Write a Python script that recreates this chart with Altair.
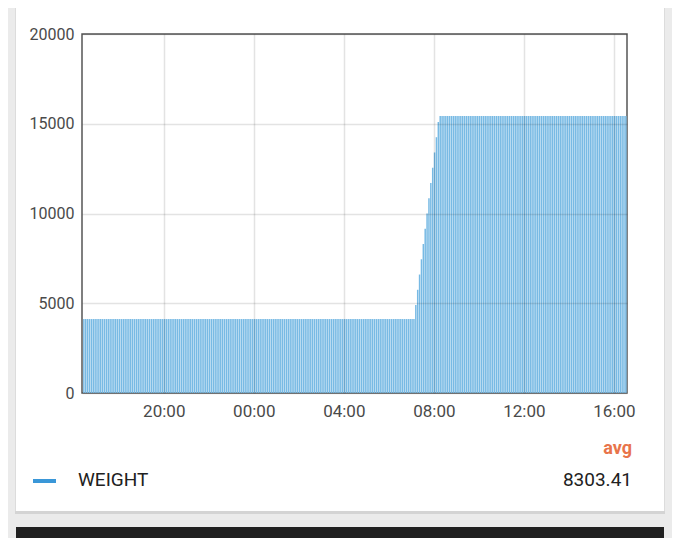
import altair as alt
import pandas as pd

# ---- data ----
first_bar = "2023-01-01 16:25"
bar_minutes = 5
low_level = 4120
low_count = 177
ramp_values = [4900, 5750, 6600, 7450, 8300, 9150, 10000, 10850, 11700, 12550, 13400, 14250, 15100]
high_level = 15430
high_count = 100
domain_start = alt.DateTime(year=2023, month=1, date=1, hours=16, minutes=22)
domain_end = alt.DateTime(year=2023, month=1, date=2, hours=16, minutes=35)
tick_times = [(1, 20), (2, 0), (2, 4), (2, 8), (2, 12), (2, 16)]
y_ticks = [0, 5000, 10000, 15000, 20000]
series_name = "WEIGHT"
avg_label = "avg"
avg_value = "8303.41"

values = [low_level] * low_count + ramp_values + [high_level] * high_count
starts = pd.date_range(first_bar, periods=len(values), freq=f"{bar_minutes}min")
df = pd.DataFrame({
    "start": starts.strftime("%Y-%m-%dT%H:%M:%S"),
    "end": (starts + pd.Timedelta(minutes=bar_minutes - 1)).strftime("%Y-%m-%dT%H:%M:%S"),
    "value": values,
})
x_ticks = [alt.DateTime(year=2023, month=1, date=d, hours=h) for d, h in tick_times]

W, H = 545, 359
FONT = "Roboto"
one = pd.DataFrame({"k": [0]})

def rect(x, x2, y, y2, color):
    return alt.Chart(one).mark_rect(color=color).encode(
        x=alt.value(x), x2=alt.value(x2), y=alt.value(y), y2=alt.value(y2))

# grey page areas around the white card
left_strip = rect(-74, -67, -26, 506, "#ebebeb")
left_shadow = rect(-67, -66, -26, 478, "#dcdcdc")
right_strip = rect(583, 590, -26, 506, "#ebebeb")
right_shadow = rect(582, 583, -26, 478, "#dcdcdc")
bottom_band = rect(-74, 590, 477, 506, "#ebebeb")
bottom_shadow = rect(-67, 583, 477, 480, "#d4d4d4")
dark_bar = rect(-66, 582, 493, 506, "#212121")

bars = alt.Chart(df).mark_rect(color="#78bae4").encode(
    x=alt.X("start:T",
            scale=alt.Scale(domain=[domain_start, domain_end]),
            axis=alt.Axis(format="%H:%M", values=x_ticks,
                          title=None, grid=True, domain=False, ticks=False,
                          labelPadding=10, labelFontSize=17, zindex=1)),
    x2="end:T",
    y=alt.Y("value:Q",
            scale=alt.Scale(domain=[0, 20000]),
            axis=alt.Axis(values=y_ticks, format="d",
                          title=None, grid=True, domain=False, ticks=False,
                          labelPadding=8, labelFontSize=16, zindex=1)),
    y2=alt.datum(0),
)

legend_swatch = rect(-49, -26, 445, 449, "#3a97d8")
avg_text = alt.Chart(one).mark_text(
    text=avg_label, align="right", baseline="middle", font=FONT,
    fontSize=18, fontWeight="bold", color="#e8744a").encode(
    x=alt.value(550), y=alt.value(415))
name_text = alt.Chart(one).mark_text(
    text=series_name, align="left", baseline="middle", font=FONT,
    fontSize=19, color="#212121").encode(
    x=alt.value(-4), y=alt.value(446))
value_text = alt.Chart(one).mark_text(
    text=avg_value, align="right", baseline="middle", font=FONT,
    fontSize=19, color="#212121").encode(
    x=alt.value(550), y=alt.value(446))

chart = alt.layer(
    bars, left_strip, left_shadow, right_strip, right_shadow, bottom_band,
    bottom_shadow, dark_bar, legend_swatch, avg_text, name_text, value_text,
).properties(
    width=W, height=H,
    autosize=alt.AutoSizeParams(type="none"),
    padding={"left": 74, "top": 26, "right": 45, "bottom": 145},
    background="#ffffff",
).configure_view(
    stroke="#555555", strokeWidth=1.5
).configure_axis(
    labelFont=FONT, labelColor="#4a4a4a",
    gridColor="#000000", gridOpacity=0.11, gridWidth=1.5,
)

chart.save("out.html", embed_options={"renderer": "svg", "actions": False})
